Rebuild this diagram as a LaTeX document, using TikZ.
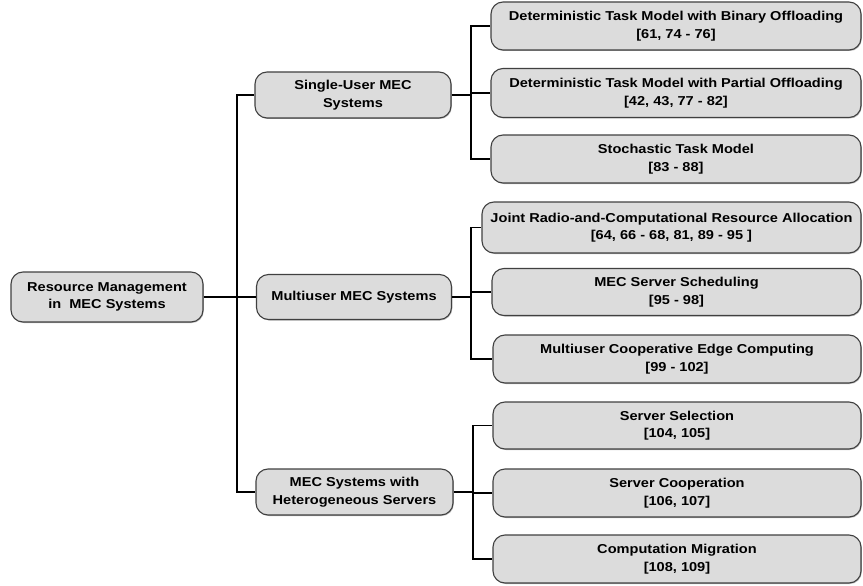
\documentclass[tikz,border=0pt]{standalone}
\usepackage{fontspec}
\setmainfont{Liberation Sans}[FakeStretch=1.13]
\usetikzlibrary{shadows}
\definecolor{boxfill}{HTML}{DCDCDC}
\definecolor{boxline}{HTML}{404040}
\begin{document}
\begin{tikzpicture}[x=1pt,y=-1pt,
  box/.style={draw=boxline, line width=1.1pt, fill=boxfill, rounded corners=12pt,
    inner sep=0pt, align=center, font=\fontsize{12.9}{17.5}\selectfont\bfseries,
    drop shadow={shadow xshift=0.8pt, shadow yshift=-1pt, fill=black!45, opacity=0.6}},
  conn/.style={line width=1.8pt, black}]
\useasboundingbox (0,0) rectangle (863,586);
% level 0
\node[box, minimum width=192pt, minimum height=50pt] (root) at (107,297) {Resource Management\\in~ MEC Systems};
% level 1
\node[box, minimum width=196pt, minimum height=46pt] (single) at (353,95) {Single-User MEC\\Systems};
\node[box, minimum width=195pt, minimum height=45pt] (multi) at (354,297) {Multiuser MEC Systems};
\node[box, minimum width=197pt, minimum height=46pt] (het) at (354.5,492) {MEC Systems with\\Heterogeneous Servers};
% level 2
\node[box, minimum width=370pt, minimum height=48pt] (b1) at (676,26) {Deterministic Task Model with Binary Offloading\\{[61, 74 - 76]}};
\node[box, minimum width=370pt, minimum height=49pt] (b2) at (676,93) {Deterministic Task Model with Partial Offloading\\{[42, 43, 77 - 82]}};
\node[box, minimum width=370pt, minimum height=48pt] (b3) at (676,159) {Stochastic Task Model\\{[83 - 88]}};
\node[box, minimum width=379pt, minimum height=51pt] (m1) at (671.5,227.5) {Joint Radio-and-Computational Resource Allocation\\{[64, 66 - 68, 81, 89 - 95 ]}};
\node[box, minimum width=369pt, minimum height=47pt] (m2) at (676.5,292) {MEC Server Scheduling\\{[95 - 98]}};
\node[box, minimum width=368pt, minimum height=48pt] (m3) at (677,359) {Multiuser Cooperative Edge Computing\\{[99 - 102]}};
\node[box, minimum width=368pt, minimum height=47pt] (s1) at (677,425.5) {Server Selection\\{[104, 105]}};
\node[box, minimum width=368pt, minimum height=48pt] (s2) at (677,493) {Server Cooperation\\{[106, 107]}};
\node[box, minimum width=368pt, minimum height=48pt] (s3) at (677,559) {Computation Migration\\{[108, 109]}};
% connectors
\coordinate (j0) at (237,297);
\coordinate (j1) at (471,95);
\coordinate (j2) at (471,297);
\coordinate (j3) at (473,492);
\begin{scope}[on background layer/.try]
\draw[conn] (root.east) -- (j0) |- (single.west);
\draw[conn] (j0) |- (het.west);
\draw[conn] (j0) -- (multi.west);
\draw[conn] (single.east) -- (j1) |- (b1.west);
\draw[conn] (j1) |- (b3.west);
\draw[conn] (j1) |- (b2.west);
\draw[conn] (multi.east) -- (j2) |- (m1.west);
\draw[conn] (j2) |- (m3.west);
\draw[conn] (j2) |- (m2.west);
\draw[conn] (het.east) -- (j3) |- (s1.west);
\draw[conn] (j3) |- (s3.west);
\draw[conn] (j3) |- (s2.west);
\end{scope}
\end{tikzpicture}
\end{document}
